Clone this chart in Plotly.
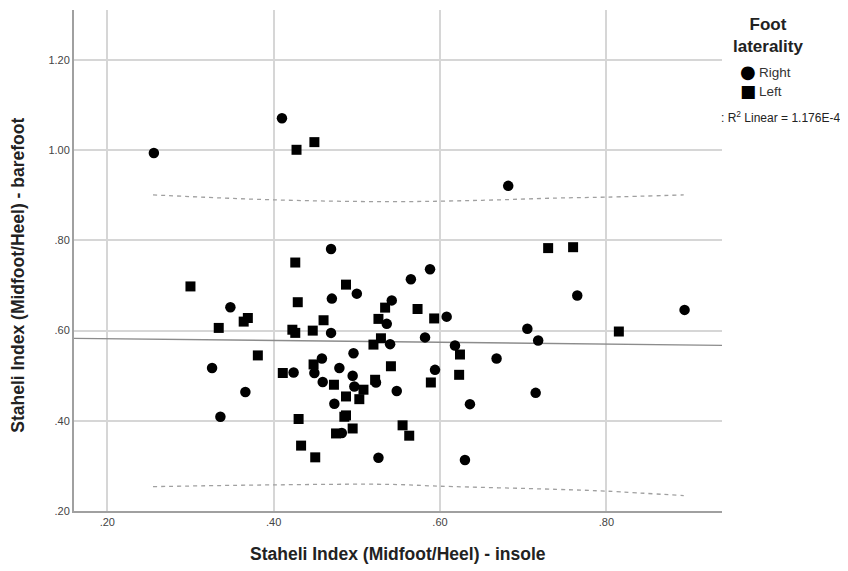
import plotly.graph_objects as go

# ---- data ----
right_x = [0.256, 0.410, 0.682, 0.469, 0.348, 0.326, 0.366, 0.336, 0.470, 0.500,
           0.469, 0.536, 0.496, 0.458, 0.449, 0.424, 0.479, 0.495, 0.459, 0.497,
           0.523, 0.473, 0.526, 0.588, 0.565, 0.542, 0.608, 0.582, 0.540, 0.618,
           0.668, 0.594, 0.548, 0.636, 0.715, 0.630, 0.705, 0.718, 0.765, 0.894,
           0.482]
right_y = [0.994, 1.071, 0.921, 0.781, 0.652, 0.517, 0.464, 0.409, 0.671, 0.682,
           0.595, 0.615, 0.550, 0.538, 0.506, 0.507, 0.517, 0.500, 0.486, 0.476,
           0.485, 0.438, 0.318, 0.736, 0.714, 0.667, 0.631, 0.585, 0.570, 0.567,
           0.538, 0.513, 0.466, 0.437, 0.462, 0.313, 0.604, 0.578, 0.678, 0.646,
           0.373]

left_x = [0.4275, 0.449, 0.730, 0.760, 0.300, 0.334, 0.364, 0.369, 0.381, 0.426,
          0.429, 0.487, 0.460, 0.4225, 0.426, 0.447, 0.534, 0.526, 0.520, 0.529,
          0.448, 0.411, 0.4725, 0.508, 0.522, 0.487, 0.503, 0.430, 0.485, 0.487,
          0.475, 0.495, 0.433, 0.450, 0.573, 0.593, 0.624, 0.541, 0.623, 0.589,
          0.555, 0.563, 0.815]
left_y = [1.001, 1.018, 0.783, 0.785, 0.698, 0.606, 0.620, 0.628, 0.545, 0.751,
          0.663, 0.702, 0.623, 0.602, 0.595, 0.600, 0.651, 0.626, 0.569, 0.583,
          0.525, 0.506, 0.480, 0.469, 0.491, 0.454, 0.448, 0.404, 0.409, 0.412,
          0.372, 0.383, 0.345, 0.319, 0.648, 0.627, 0.547, 0.521, 0.502, 0.485,
          0.390, 0.367, 0.598]

# linear fit
fit_intercept = 0.583
fit_slope = -0.020

# 95% prediction interval curves
upper_x = [0.255, 0.40, 0.54, 0.65, 0.74, 0.80, 0.893]
upper_y = [0.901, 0.890, 0.886, 0.889, 0.894, 0.896, 0.901]
lower_x = [0.255, 0.40, 0.54, 0.60, 0.74, 0.80, 0.893]
lower_y = [0.254, 0.258, 0.259, 0.255, 0.248, 0.244, 0.234]

x_range = [0.160, 0.939]
y_range = [0.20, 1.311]

x_tickvals = [0.2, 0.4, 0.6, 0.8]
x_ticktext = [".20", ".40", ".60", ".80"]
y_tickvals = [0.2, 0.4, 0.6, 0.8, 1.0, 1.2]
y_ticktext = [".20", ".40", ".60", ".80", "1.00", "1.20"]

x_title = "Staheli Index (Midfoot/Heel) - insole"
y_title = "Staheli Index (Midfoot/Heel) - barefoot"
legend_title = "Foot<br>laterality"
legend_names = ["Right", "Left"]
legend_glyphs = ["●", "■"]
fit_label = ": R<sup>2</sup> Linear = 1.176E-4"

FONT = "Liberation Sans, Arial, sans-serif"

# page has an 8px body margin; the figure is sized/offset to compensate
W, H = 840, 563
ML, MT, MR, MB = 66, 2, 126, 59.5
PW = W - ML - MR
PH = H - MT - MB

fig = go.Figure()

fit_x = x_range
fit_y = [fit_intercept + fit_slope * (v - 0.16) for v in fit_x]
fig.add_trace(go.Scatter(x=fit_x, y=fit_y, mode="lines",
                         line=dict(color="#8c8c8c", width=1.3),
                         showlegend=False, hoverinfo="skip"))
fig.add_trace(go.Scatter(x=upper_x, y=upper_y, mode="lines",
                         line=dict(color="#a0a0a0", width=1.3, dash="4px,4px", shape="spline"),
                         showlegend=False, hoverinfo="skip"))
fig.add_trace(go.Scatter(x=lower_x, y=lower_y, mode="lines",
                         line=dict(color="#a0a0a0", width=1.3, dash="4px,4px", shape="spline"),
                         showlegend=False, hoverinfo="skip"))

fig.add_trace(go.Scatter(x=right_x, y=right_y, mode="markers", name=legend_names[0],
                         showlegend=False,
                         marker=dict(symbol="circle", size=10.5, color="black",
                                     line=dict(width=0))))
fig.add_trace(go.Scatter(x=left_x, y=left_y, mode="markers", name=legend_names[1],
                         showlegend=False,
                         marker=dict(symbol="square", size=10, color="black",
                                     line=dict(width=0))))

fig.update_layout(
    width=W, height=H,
    margin=dict(l=ML, r=MR, t=MT, b=MB, pad=0),
    paper_bgcolor="white", plot_bgcolor="white",
    font=dict(family=FONT, color="#333333"),
    showlegend=False,
    xaxis=dict(range=x_range, tickvals=x_tickvals, ticktext=x_ticktext,
               showgrid=True, gridcolor="#d6d6d6", gridwidth=1.5,
               zeroline=False, showline=True, linecolor="#a0a0a0", linewidth=2,
               ticks="", tickfont=dict(size=11, color="#444444"), automargin=False),
    yaxis=dict(range=y_range, tickvals=y_tickvals, ticktext=y_ticktext,
               showgrid=True, gridcolor="#d6d6d6", gridwidth=1.5,
               zeroline=False, showline=True, linecolor="#a0a0a0", linewidth=2,
               ticks="", tickfont=dict(size=11, color="#444444"), automargin=False),
)

# helpers: page pixel -> paper fraction
def px_x(px):
    return (px - 8 - ML) / PW

def px_y(py):
    return (MT + PH - (py - 8)) / PH

# axis titles
fig.add_annotation(xref="paper", yref="paper", x=px_x(398), y=px_y(555),
                   xanchor="center", yanchor="middle", showarrow=False,
                   text="<b>" + x_title + "</b>",
                   font=dict(size=17.5, color="#222222"))
fig.add_annotation(xref="paper", yref="paper", x=px_x(18), y=px_y(276),
                   xanchor="center", yanchor="middle", showarrow=False, textangle=-90,
                   text="<b>" + y_title + "</b>",
                   font=dict(size=17.5, color="#222222"))

# legend
fig.add_annotation(xref="paper", yref="paper", x=px_x(768), y=px_y(36),
                   yanchor="middle", xanchor="center", showarrow=False, align="center",
                   text="<b>" + legend_title.replace("<br>", "</b><br><b>") + "</b>",
                   font=dict(size=17, color="#222222"))

glyph_sizes = [18, 17]
row_y = [72, 91]
for name, glyph, gs, ry in zip(legend_names, legend_glyphs, glyph_sizes, row_y):
    fig.add_annotation(xref="paper", yref="paper", x=px_x(748), y=px_y(ry),
                       xanchor="center", yanchor="middle", showarrow=False,
                       text=glyph, font=dict(size=gs, color="black",
                                             family="DejaVu Sans"))
    fig.add_annotation(xref="paper", yref="paper", x=px_x(757), y=px_y(ry + 1),
                       xanchor="left", yanchor="middle", showarrow=False,
                       text=name, font=dict(size=13.5, color="#333333"))

fig.add_annotation(xref="paper", yref="paper", x=px_x(719), y=px_y(117),
                   yanchor="middle", xanchor="left", showarrow=False, align="left",
                   text=fit_label, font=dict(size=12, color="#222222"))

fig.write_html("out.html")
